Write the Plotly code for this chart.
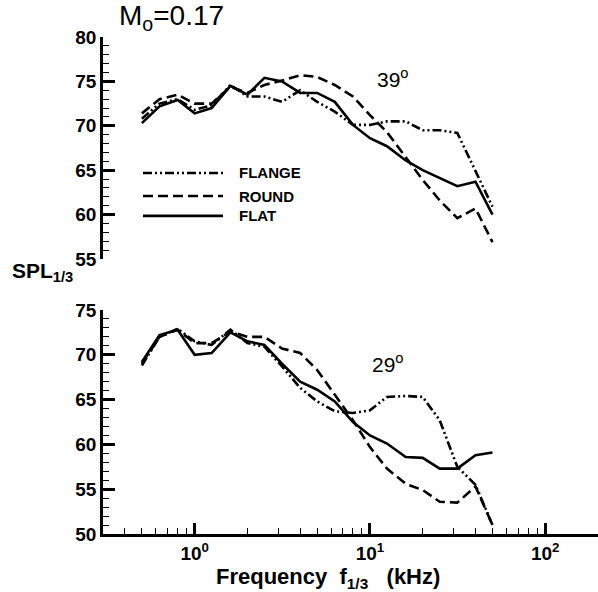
import plotly.graph_objects as go

# One-third-octave band centre frequencies (kHz)
freq_khz = [0.5, 0.63, 0.8, 1.0, 1.25, 1.6, 2.0, 2.5, 3.15, 4.0, 5.0,
            6.3, 8.0, 10.0, 12.5, 16.0, 20.0, 25.0, 31.5, 40.0, 50.0]

# 39 degree observer angle
flange_39 = [70.8, 72.5, 73.0, 71.8, 72.3, 74.6, 73.3, 73.3, 72.7, 74.0, 72.7,
             71.6, 70.1, 70.1, 70.5, 70.5, 69.5, 69.5, 69.2, 65.0, 60.9]
round_39 = [71.4, 73.0, 73.5, 72.5, 72.5, 74.4, 73.7, 74.6, 75.1, 75.7, 75.5,
            74.6, 73.3, 71.2, 69.3, 66.5, 63.9, 61.6, 59.6, 60.7, 56.9]
flat_39 = [70.3, 72.2, 72.9, 71.4, 72.0, 74.5, 73.5, 75.4, 75.0, 73.7, 73.7,
           72.7, 70.1, 68.6, 67.7, 66.1, 65.0, 64.1, 63.2, 63.7, 60.0]

# 29 degree observer angle
flange_29 = [68.8, 72.0, 72.9, 71.5, 71.1, 72.8, 71.3, 70.9, 68.7, 66.3, 64.8,
             63.7, 63.5, 63.8, 65.3, 65.4, 65.3, 62.7, 57.5, 55.5, 51.0]
round_29 = [69.0, 72.0, 72.8, 71.3, 71.3, 72.6, 72.0, 72.0, 70.7, 70.2, 68.3,
            65.5, 62.7, 59.7, 57.3, 55.6, 54.9, 53.6, 53.5, 55.3, 51.0]
flat_29 = [69.2, 72.2, 72.8, 70.0, 70.2, 72.5, 71.5, 71.1, 69.0, 67.0, 66.1,
           64.8, 62.5, 61.0, 60.1, 58.6, 58.5, 57.3, 57.3, 58.8, 59.1]

series_names = ["FLANGE", "ROUND", "FLAT"]
dash_styles = ["9px,3px,2px,3px,2px,3px", "10px,5px", "solid"]

x_tick_vals = [1, 10, 100]
x_tick_text = ["<b>10<sup>0</sup></b>", "<b>10<sup>1</sup></b>", "<b>10<sup>2</sup></b>"]
y_ticks_low = [50, 55, 60, 65, 70, 75]
y_ticks_high = [55, 60, 65, 70, 75, 80]

FONT = "Liberation Sans, Arial, sans-serif"
LW = 2.6

fig = go.Figure()

panels = [
    ("y2", [flange_39, round_39, flat_39]),
    ("y", [flange_29, round_29, flat_29]),
]
for yref, data in panels:
    for name, dash, vals in zip(series_names, dash_styles, data):
        fig.add_trace(go.Scatter(
            x=freq_khz, y=vals, mode="lines", name=name,
            line=dict(color="black", width=LW, dash=dash),
            xaxis="x", yaxis=yref, showlegend=False,
        ))

axis_font = dict(family=FONT, size=19, color="black", weight="bold")


def y_axis(domain, rng, ticks):
    return dict(
        domain=domain, range=rng, anchor="x",
        showline=True, linecolor="black", linewidth=LW,
        showgrid=False, zeroline=False,
        tickvals=ticks, ticktext=[f"<b>{t}</b>" for t in ticks],
        ticks="inside", ticklen=12, tickwidth=LW, tickcolor="black",
        tickfont=axis_font,
        minor=dict(ticks="inside", ticklen=6, tickwidth=1.2, tickcolor="black",
                   dtick=1, showgrid=False),
    )


fig.update_layout(
    width=598, height=592,
    margin=dict(l=103, r=0, t=37, b=58),
    paper_bgcolor="white", plot_bgcolor="white",
    font=dict(family=FONT, color="black"),
    xaxis=dict(
        type="log", range=[-0.5229, 2.301], anchor="y",
        showline=True, linecolor="black", linewidth=LW,
        showgrid=False, zeroline=False,
        tickvals=x_tick_vals, ticktext=x_tick_text,
        ticks="inside", ticklen=11, tickwidth=LW, tickcolor="black",
        tickfont=axis_font,
        minor=dict(ticks="inside", ticklen=6, tickwidth=1.2, tickcolor="black",
                   dtick="D1", showgrid=False),
    ),
    yaxis=y_axis([0, 0.4507], [50, 75], y_ticks_low),
    yaxis2=y_axis([0.5533, 1], [55, 80], y_ticks_high),
)

# Hand-drawn legend inside the upper panel
legend_y = [0.7264, 0.680, 0.640]
for name, dash, ly in zip(series_names, dash_styles, legend_y):
    fig.add_shape(type="line", xref="paper", yref="paper",
                  x0=0.0808, x1=0.2424, y0=ly, y1=ly,
                  line=dict(color="black", width=LW, dash=dash))
    fig.add_annotation(xref="paper", yref="paper", x=0.2707, y=ly,
                       xanchor="left", yanchor="middle", showarrow=False,
                       text=f"<b>{name}</b>",
                       font=dict(family=FONT, size=15, color="black"))

# Titles and labels
fig.add_annotation(xref="paper", yref="paper", x=0.028, y=1.040,
                   xanchor="left", yanchor="middle", showarrow=False,
                   text="M<sub>o</sub>=0.17",
                   font=dict(family=FONT, size=28, color="black"))
fig.add_annotation(xref="paper", yref="paper", x=-0.188, y=0.527,
                   xanchor="left", yanchor="middle", showarrow=False,
                   text="<b>SPL<sub>1/3</sub></b>",
                   font=dict(family=FONT, size=21, color="black"))
fig.add_annotation(xref="paper", yref="paper", x=0.586, y=0.917,
                   xanchor="center", yanchor="middle", showarrow=False,
                   text="39<sup>o</sup>",
                   font=dict(family=FONT, size=21, color="black"))
fig.add_annotation(xref="paper", yref="paper", x=0.576, y=0.344,
                   xanchor="center", yanchor="middle", showarrow=False,
                   text="29<sup>o</sup>",
                   font=dict(family=FONT, size=21, color="black"))
fig.add_annotation(xref="paper", yref="paper", x=0.4545, y=-0.0885,
                   xanchor="center", yanchor="middle", showarrow=False,
                   text="<b>Frequency&nbsp; f<sub>1/3</sub>&nbsp;&nbsp; (kHz)</b>",
                   font=dict(family=FONT, size=22, color="black"))

fig.write_html("out.html")
